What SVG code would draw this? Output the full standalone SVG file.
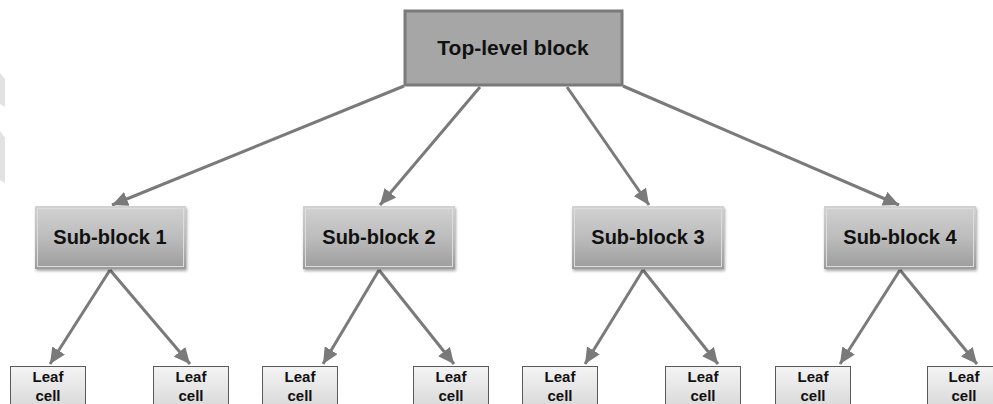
<svg xmlns="http://www.w3.org/2000/svg" width="993" height="404" viewBox="0 0 993 404">
  <defs>
    <linearGradient id="subFill" x1="0" y1="0" x2="0" y2="1">
      <stop offset="0" stop-color="#d2d2d2"/>
      <stop offset="0.5" stop-color="#bcbcbc"/>
      <stop offset="1" stop-color="#9c9c9c"/>
    </linearGradient>
    <linearGradient id="leafFill" x1="0" y1="0" x2="0" y2="1">
      <stop offset="0" stop-color="#f4f4f4"/>
      <stop offset="1" stop-color="#d6d6d6"/>
    </linearGradient>
    <filter id="shadow" x="-10%" y="-10%" width="125%" height="135%">
      <feGaussianBlur in="SourceAlpha" stdDeviation="1.5"/>
      <feOffset dx="1" dy="2" result="b"/>
      <feComponentTransfer><feFuncA type="linear" slope="0.35"/></feComponentTransfer>
      <feMerge><feMergeNode/><feMergeNode in="SourceGraphic"/></feMerge>
    </filter>
    <marker id="arrow" markerUnits="userSpaceOnUse" markerWidth="17" markerHeight="15" refX="16" refY="7.5" orient="auto">
      <path d="M0,0 L16,7.5 L0,15 Z" fill="#7a7a7a"/>
    </marker>
  </defs>
  <style>
    .conn { stroke: #7a7a7a; stroke-width: 3; fill: none; marker-end: url(#arrow); }
    .top { fill: #a6a6a6; stroke: #7a7a7a; stroke-width: 3; }
    .sub { fill: url(#subFill); filter: url(#shadow); }
    .bevel { fill: none; stroke: #dcdcdc; stroke-width: 1; }
    .leaf { fill: url(#leafFill); stroke: #5a5a5a; stroke-width: 1; }
    .lbl { font-family: "Liberation Sans", Arial, sans-serif; font-weight: bold; fill: #111; text-anchor: middle; }
    .big { font-size: 20px; }
    .huge { font-size: 21px; }
    .small { font-size: 15px; }
  </style>

  <rect width="993" height="404" fill="#ffffff"/>
  <!-- faint shapes at the left margin -->
  <polygon points="0,73 5,79 5,107 0,104" fill="#e2e2e2"/>
  <polygon points="0,131 5,138 5,183 0,180" fill="#e2e2e2"/>

  <g id="connectors">
    <line class="conn" x1="404" y1="86" x2="112" y2="205"/>
    <line class="conn" x1="480" y1="87" x2="380" y2="205"/>
    <line class="conn" x1="567" y1="87" x2="649" y2="205"/>
    <line class="conn" x1="623" y1="86" x2="899" y2="205"/>

    <line class="conn" x1="110" y1="270" x2="50" y2="364"/>
    <line class="conn" x1="110" y1="270" x2="190" y2="364"/>
    <line class="conn" x1="379" y1="270" x2="323" y2="364"/>
    <line class="conn" x1="379" y1="270" x2="454" y2="364"/>
    <line class="conn" x1="643" y1="270" x2="585" y2="364"/>
    <line class="conn" x1="643" y1="270" x2="718" y2="364"/>
    <line class="conn" x1="900" y1="270" x2="840" y2="364"/>
    <line class="conn" x1="900" y1="270" x2="977" y2="364"/>
  </g>

  <g id="top-level">
    <rect class="top" x="405" y="11" width="217" height="74"/>
    <text class="lbl huge" x="513" y="55">Top-level block</text>
  </g>

  <g id="sub-block-1">
    <rect class="sub" x="35" y="206" width="151" height="63"/>
    <rect class="bevel" x="37.5" y="208.5" width="146" height="58"/>
    <text class="lbl big" x="110" y="244">Sub-block 1</text>
  </g>
  <g id="sub-block-2">
    <rect class="sub" x="303" y="206" width="152" height="63"/>
    <rect class="bevel" x="305.5" y="208.5" width="147" height="58"/>
    <text class="lbl big" x="379" y="244">Sub-block 2</text>
  </g>
  <g id="sub-block-3">
    <rect class="sub" x="572" y="206" width="152" height="63"/>
    <rect class="bevel" x="574.5" y="208.5" width="147" height="58"/>
    <text class="lbl big" x="648" y="244">Sub-block 3</text>
  </g>
  <g id="sub-block-4">
    <rect class="sub" x="824" y="206" width="152" height="63"/>
    <rect class="bevel" x="826.5" y="208.5" width="147" height="58"/>
    <text class="lbl big" x="900" y="244">Sub-block 4</text>
  </g>

  <g id="leaf-1">
    <rect class="leaf" x="10.5" y="366.5" width="75" height="45"/>
    <text class="lbl small" x="48" y="382">Leaf</text>
    <text class="lbl small" x="48" y="401">cell</text>
  </g>
  <g id="leaf-2">
    <rect class="leaf" x="153.5" y="366.5" width="75" height="45"/>
    <text class="lbl small" x="191" y="382">Leaf</text>
    <text class="lbl small" x="191" y="401">cell</text>
  </g>
  <g id="leaf-3">
    <rect class="leaf" x="262.5" y="366.5" width="75" height="45"/>
    <text class="lbl small" x="300" y="382">Leaf</text>
    <text class="lbl small" x="300" y="401">cell</text>
  </g>
  <g id="leaf-4">
    <rect class="leaf" x="413.5" y="366.5" width="75" height="45"/>
    <text class="lbl small" x="451" y="382">Leaf</text>
    <text class="lbl small" x="451" y="401">cell</text>
  </g>
  <g id="leaf-5">
    <rect class="leaf" x="522.5" y="366.5" width="75" height="45"/>
    <text class="lbl small" x="560" y="382">Leaf</text>
    <text class="lbl small" x="560" y="401">cell</text>
  </g>
  <g id="leaf-6">
    <rect class="leaf" x="665.5" y="366.5" width="75" height="45"/>
    <text class="lbl small" x="703" y="382">Leaf</text>
    <text class="lbl small" x="703" y="401">cell</text>
  </g>
  <g id="leaf-7">
    <rect class="leaf" x="775.5" y="366.5" width="75" height="45"/>
    <text class="lbl small" x="813" y="382">Leaf</text>
    <text class="lbl small" x="813" y="401">cell</text>
  </g>
  <g id="leaf-8">
    <rect class="leaf" x="927.5" y="366.5" width="75" height="45"/>
    <text class="lbl small" x="964" y="382">Leaf</text>
    <text class="lbl small" x="964" y="401">cell</text>
  </g>
</svg>
